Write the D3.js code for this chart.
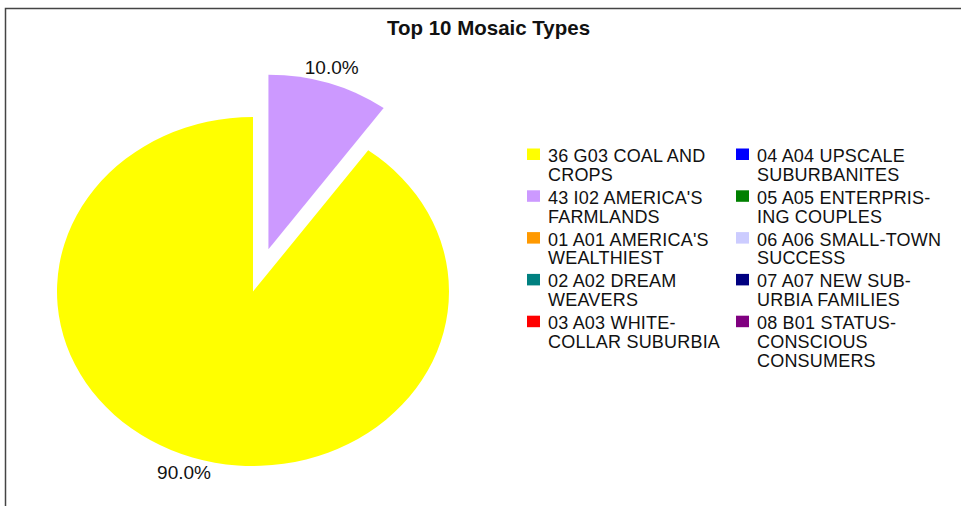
<!DOCTYPE html>
<html>
<head>
<meta charset="utf-8">
<script src="https://cdn.jsdelivr.net/npm/d3@7"></script>
<style>
  body { margin: 0; background: #fff; }
  text { font-family: "Liberation Sans", Arial, sans-serif; fill: #111; }
</style>
</head>
<body>
<script>
// chart data
var categories = [
  "36 G03 COAL AND\nCROPS",
  "43 I02 AMERICA'S\nFARMLANDS",
  "01 A01 AMERICA'S\nWEALTHIEST",
  "02 A02 DREAM\nWEAVERS",
  "03 A03 WHITE-\nCOLLAR SUBURBIA",
  "04 A04 UPSCALE\nSUBURBANITES",
  "05 A05 ENTERPRIS-\nING COUPLES",
  "06 A06 SMALL-TOWN\nSUCCESS",
  "07 A07 NEW SUB-\nURBIA FAMILIES",
  "08 B01 STATUS-\nCONSCIOUS\nCONSUMERS"
];
var values = [90, 10, 0, 0, 0, 0, 0, 0, 0, 0];
var colors = ["#ffff00", "#cc99ff", "#ff9900", "#008080", "#ff0000",
              "#0000ff", "#008000", "#ccccff", "#000080", "#800080"];
var title = "Top 10 Mosaic Types";

var width = 961, height = 506;

// pie configuration
var cx = 253, cy = 291.5;
var rx = 196, ry = 174.5;
var squash = ry / rx;
var explode = 50;
var labelRadius = 214;

var svg = d3.select("body").append("svg")
    .attr("width", width)
    .attr("height", height);

// frame (top and left edges only)
svg.append("path")
    .attr("d", "M5.5,506 L5.5,8.5 L961,8.5")
    .attr("fill", "none")
    .attr("stroke", "#444")
    .attr("stroke-width", 1.5);

// title
svg.append("text")
    .attr("x", 488.5)
    .attr("y", 35)
    .attr("text-anchor", "middle")
    .attr("font-weight", "bold")
    .attr("font-size", "20.5px")
    .text(title);

var total = d3.sum(values);
var pie = d3.pie()
    .sort(null)
    .value(function(d) { return d; })
    .startAngle(Math.PI * 0.2)
    .endAngle(Math.PI * 2.2);

var arcs = pie(values).filter(function(d) { return d.value > 0; });
var arc = d3.arc().innerRadius(0).outerRadius(rx);

function midAngle(d) { return (d.startAngle + d.endAngle) / 2; }
function offset(d) { return d.index === 1 ? explode : 0; }

// draw slices, the smaller one pulled out
var slices = svg.append("g")
    .attr("transform", "translate(" + cx + "," + cy + ") scale(1," + squash + ")");

slices.selectAll("path")
    .data(arcs)
    .enter().append("path")
    .attr("fill", function(d) { return colors[d.index]; })
    .attr("transform", function(d) {
      var a = midAngle(d);
      return "translate(" + (offset(d) * Math.sin(a)) + "," + (-offset(d) * Math.cos(a)) + ")";
    })
    .attr("d", arc);

// percentage labels (label angle nudged a little toward the top)
var labelShift = -0.014;
svg.selectAll(".pct")
    .data(arcs)
    .enter().append("text")
    .attr("class", "pct")
    .attr("text-anchor", "middle")
    .attr("dy", "0.35em")
    .attr("font-size", "19px")
    .attr("x", function(d) {
      var a = midAngle(d) + labelShift * (d.index === 1 ? 1 : -1);
      return cx + offset(d) * Math.sin(midAngle(d)) + labelRadius * Math.sin(a);
    })
    .attr("y", function(d) {
      var a = midAngle(d) + labelShift * (d.index === 1 ? 1 : -1);
      return cy - (offset(d) * Math.cos(midAngle(d)) + labelRadius * Math.cos(a)) * squash;
    })
    .text(function(d) { return d3.format(".1f")(d.value / total * 100) + "%"; });

// legend, two columns of five
var legendCol = d3.scaleOrdinal().domain([0, 1]).range([527, 736]);
var legendRow = d3.scaleLinear().domain([0, 1]).range([148.5, 190.3]);
var lineHeight = 18.8;

var items = svg.selectAll(".legend")
    .data(categories)
    .enter().append("g")
    .attr("class", "legend")
    .attr("transform", function(d, i) {
      return "translate(" + legendCol(Math.floor(i / 5)) + "," + legendRow(i % 5) + ")";
    });

items.append("rect")
    .attr("width", 13)
    .attr("height", 11.5)
    .attr("fill", function(d, i) { return colors[i]; });

items.append("text")
    .attr("font-size", "18px")
    .attr("letter-spacing", "0.2px")
    .each(function(d) {
      var t = d3.select(this);
      d.split("\n").forEach(function(line, k) {
        t.append("tspan")
          .attr("x", 21)
          .attr("y", 13.5 + k * lineHeight)
          .text(line);
      });
    });
</script>
</body>
</html>
